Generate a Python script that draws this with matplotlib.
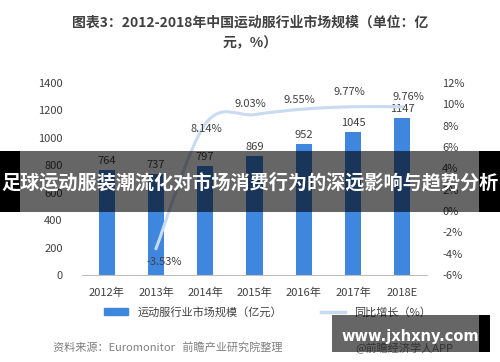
import numpy as np
import matplotlib
matplotlib.use('Agg')
import matplotlib.pyplot as plt
from matplotlib.path import Path
from matplotlib.patches import PathPatch, Rectangle, Patch
from matplotlib.lines import Line2D

plt.rcParams['font.family'] = ['Noto Sans CJK SC', 'DejaVu Sans']

years = ['2012年', '2013年', '2014年', '2015年', '2016年', '2017年', '2018E']
market = [764, 737, 797, 869, 952, 1045, 1147]
growth_start = 1  # growth series begins at 2013
growth = [-3.53, 8.14, 9.03, 9.55, 9.77, 9.76]
growth_labels = ['-3.53%', '8.14%', '9.03%', '9.55%', '9.77%', '9.76%']
# label offsets in pixels (dx, dy)
growth_offsets = [(8, -13), (1, -5), (-4, 11), (-4, 9), (-4, 15), (6, 10)]

bar_color = '#3F86DF'
line_color = '#C9DBF1'
txt = '#404040'

fig = plt.figure(figsize=(5, 3.62), dpi=100)
ax = fig.add_axes([0.164, 0.240, 0.69, 0.531])

x = np.arange(len(years))
ax.bar(x, market, width=0.33, color=bar_color, zorder=2)
for xi, v in zip(x, market):
    ax.annotate(str(v), (xi, v), xytext=(0, 4), textcoords='offset pixels',
                ha='center', va='bottom', fontsize=8, color=txt)

ax.set_xlim(-0.5, 6.5)
ax.set_ylim(0, 1400)
ax.set_yticks(range(0, 1401, 200))
ax.set_xticks(x)
ax.set_xticklabels(years)
for s in ['top', 'left', 'right']:
    ax.spines[s].set_visible(False)
ax.spines['bottom'].set_color('#BFBFBF')
ax.tick_params(length=0, labelsize=8, labelcolor=txt)
ax.tick_params(axis='y', pad=14)
ax.tick_params(axis='x', pad=9)

ax2 = ax.twinx()
ax2.set_ylim(-6, 12)
ax2.set_yticks(range(-6, 13, 2))
ax2.set_yticklabels([f'{t}%' for t in range(-6, 13, 2)])
for s in ax2.spines.values():
    s.set_visible(False)
ax2.tick_params(length=0, labelsize=8, labelcolor=txt, pad=11)

# smoothed line through growth points
gx = x[growth_start:]
pts = np.column_stack([gx, growth]).astype(float)
n = len(pts)
verts = [pts[0]]
codes = [Path.MOVETO]
for i in range(n - 1):
    p0 = pts[i - 1] if i > 0 else pts[i]
    p3 = pts[i + 2] if i + 2 < n else pts[i + 1]
    c1 = pts[i] + (pts[i + 1] - p0) / 6
    c2 = pts[i + 1] - (p3 - pts[i]) / 6
    verts += [c1, c2, pts[i + 1]]
    codes += [Path.CURVE4] * 3
ax2.add_patch(PathPatch(Path(verts, codes), fill=False, edgecolor=line_color,
                        lw=2.2, capstyle='round', zorder=3))
for xi, v, lab, off in zip(gx, growth, growth_labels, growth_offsets):
    ax2.annotate(lab, (xi, v), xytext=off, textcoords='offset pixels',
                 ha='center', va='center', fontsize=8, color=txt)

handles = [Patch(color=bar_color), Line2D([], [], color=line_color, lw=2.5)]
fig.legend(handles, ['运动服行业市场规模（亿元）', '同比增长（%）'], loc='center',
           bbox_to_anchor=(0.535, 0.138), ncol=2, frameon=False, fontsize=8,
           handlelength=2.2, columnspacing=3.5, labelcolor=txt)

fig.text(0.5, 1 - 23 / 362, '图表3：2012-2018年中国运动服行业市场规模（单位：亿',
         ha='center', va='center', fontsize=10, weight='bold', color=txt)
fig.text(0.5, 1 - 43 / 362, '元，%）', ha='center', va='center', fontsize=10,
         weight='bold', color=txt)

fig.text(53 / 500, 1 - 347 / 362, '资料来源：Euromonitor   前瞻产业研究院整理',
         ha='left', va='center', fontsize=8, style='italic', color='#7F7F7F')
fig.text(355 / 500, 1 - 348 / 362, '@前瞻经济学人APP', ha='left', va='center',
         fontsize=8, color='#7F7F7F')

# banner overlay
fig.add_artist(Rectangle((0, 0.414), 1, 0.169, transform=fig.transFigure,
                         color='black', alpha=0.6, lw=0, zorder=10))
fig.add_artist(Rectangle((0, 0.414), 0.04, 0.169, transform=fig.transFigure,
                         color='black', lw=0, zorder=10))
fig.add_artist(Rectangle((0.958, 0.414), 0.042, 0.169, transform=fig.transFigure,
                         color='black', lw=0, zorder=10))
fig.text(0.5, 1 - 183 / 362, '足球运动服装潮流化对市场消费行为的深远影响与趋势分析',
         ha='center', va='center', fontsize=13.8, weight='bold', color='white', zorder=11)

# watermark box
fig.add_artist(Rectangle((332 / 500, 1 - 352 / 362), 147 / 500, 37 / 362,
                         transform=fig.transFigure, color='black', alpha=0.6,
                         lw=0, zorder=10))
fig.add_artist(Rectangle((479 / 500, 1 - 352 / 362), 11 / 500, 37 / 362,
                         transform=fig.transFigure, color='black', lw=0, zorder=10))
fig.text(410 / 500, 1 - 337 / 362, 'www.jxhxny.com', ha='center', va='center',
         fontsize=10.5, weight='bold', color='white', family='DejaVu Sans', zorder=11)

fig.savefig('out.png', dpi=100)
